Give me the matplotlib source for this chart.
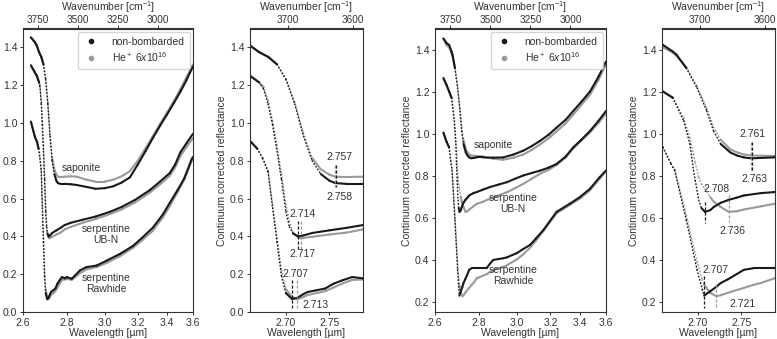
import numpy as np
import matplotlib
matplotlib.use("Agg")
import matplotlib.pyplot as plt
from matplotlib.collections import LineCollection
from matplotlib.lines import Line2D

plt.rcParams['font.family'] = ['Liberation Sans', 'DejaVu Sans']
plt.rcParams['mathtext.fontset'] = 'custom'
plt.rcParams['mathtext.rm'] = 'Liberation Sans'
plt.rcParams['mathtext.it'] = 'Liberation Sans:italic'
plt.rcParams['font.size'] = 7.5
plt.rcParams['axes.edgecolor'] = '#333333'
plt.rcParams['xtick.color'] = '#333333'
plt.rcParams['ytick.color'] = '#333333'
plt.rcParams['text.color'] = '#333333'
plt.rcParams['axes.labelcolor'] = '#333333'

# ---- left pair of panels (first sample set) ----
wl_sap_a = [2.634, 2.65, 2.66, 2.67, 2.68, 2.69, 2.70, 2.71, 2.72, 2.73, 2.74, 2.75, 2.757, 2.77, 2.79,
            2.82, 2.85, 2.90, 2.95, 3.00, 3.05, 3.10, 3.15, 3.20, 3.25, 3.30, 3.35, 3.40, 3.45, 3.50, 3.55, 3.60]
sap_a_nb = [1.452, 1.43, 1.41, 1.375, 1.35, 1.31, 1.23, 1.10, 0.93, 0.80, 0.73, 0.695, 0.682, 0.678, 0.678,
            0.676, 0.672, 0.662, 0.652, 0.655, 0.665, 0.685, 0.712, 0.78, 0.85, 0.92, 0.985, 1.045, 1.105, 1.165, 1.23, 1.30]
sap_a_he = [1.455, 1.43, 1.41, 1.375, 1.35, 1.31, 1.235, 1.11, 0.945, 0.815, 0.755, 0.727, 0.716, 0.714, 0.716,
            0.718, 0.716, 0.70, 0.69, 0.69, 0.70, 0.718, 0.745, 0.80, 0.865, 0.93, 0.995, 1.055, 1.115, 1.18, 1.245, 1.31]

wl_ubn_a = [2.634, 2.65, 2.66, 2.67, 2.675, 2.68, 2.685, 2.69, 2.695, 2.70, 2.704, 2.708, 2.714, 2.717, 2.72, 2.73,
            2.75, 2.77, 2.79, 2.82, 2.88, 2.95, 3.03, 3.10, 3.18, 3.28, 3.35, 3.42, 3.46, 3.50, 3.55, 3.60]
ubn_a_nb = [1.305, 1.27, 1.25, 1.215, 1.18, 1.10, 0.99, 0.85, 0.70, 0.53, 0.45, 0.415, 0.40, 0.402, 0.405, 0.418,
            0.432, 0.445, 0.46, 0.472, 0.488, 0.505, 0.53, 0.556, 0.592, 0.645, 0.69, 0.735, 0.78, 0.845, 0.895, 0.943]
ubn_a_he = [1.305, 1.27, 1.25, 1.215, 1.19, 1.12, 1.01, 0.88, 0.73, 0.57, 0.48, 0.42, 0.395, 0.39, 0.392, 0.398,
            0.41, 0.42, 0.437, 0.45, 0.472, 0.492, 0.518, 0.543, 0.578, 0.632, 0.675, 0.72, 0.765, 0.825, 0.875, 0.92]

wl_raw_a = [2.634, 2.652, 2.661, 2.668, 2.674, 2.68, 2.685, 2.69, 2.695, 2.70, 2.707, 2.713, 2.72, 2.725, 2.735,
            2.745, 2.755, 2.765, 2.777, 2.79, 2.80, 2.825, 2.867, 2.90, 2.956, 3.012, 3.089, 3.17, 3.23, 3.30,
            3.37, 3.42, 3.48, 3.53, 3.59, 3.60]
raw_a_nb = [1.007, 0.925, 0.90, 0.864, 0.812, 0.742, 0.55, 0.37, 0.19, 0.10, 0.068, 0.075, 0.095, 0.106, 0.115,
            0.124, 0.15, 0.167, 0.185, 0.178, 0.185, 0.176, 0.22, 0.237, 0.246, 0.272, 0.307, 0.35, 0.394, 0.446,
            0.516, 0.577, 0.647, 0.707, 0.81, 0.82]
raw_a_he = [1.007, 0.925, 0.90, 0.864, 0.815, 0.75, 0.57, 0.39, 0.22, 0.12, 0.08, 0.068, 0.08, 0.09, 0.10,
            0.11, 0.13, 0.15, 0.17, 0.172, 0.175, 0.17, 0.205, 0.225, 0.238, 0.26, 0.295, 0.34, 0.38, 0.43,
            0.50, 0.56, 0.635, 0.70, 0.80, 0.81]

# ---- right pair of panels (second sample set) ----
wl_sap_b = [2.636, 2.65, 2.661, 2.672, 2.676, 2.687, 2.699, 2.71, 2.718, 2.726, 2.737, 2.745, 2.753, 2.761, 2.763,
            2.775, 2.789, 2.82, 2.87, 2.924, 2.98, 3.035, 3.085, 3.135, 3.19, 3.24, 3.30, 3.353, 3.41, 3.475, 3.54, 3.60]
sap_b_nb = [1.453, 1.43, 1.422, 1.39, 1.375, 1.311, 1.217, 1.107, 1.01, 0.95, 0.91, 0.895, 0.886, 0.882, 0.882,
            0.884, 0.886, 0.886, 0.885, 0.886, 0.90, 0.918, 0.94, 0.965, 0.995, 1.028, 1.065, 1.107, 1.15, 1.20, 1.27, 1.343]
sap_b_he = [1.45, 1.42, 1.41, 1.385, 1.37, 1.315, 1.225, 1.12, 1.03, 0.97, 0.925, 0.91, 0.90, 0.896, 0.895,
            0.894, 0.893, 0.89, 0.88, 0.875, 0.885, 0.90, 0.922, 0.948, 0.978, 1.01, 1.048, 1.09, 1.135, 1.185, 1.255, 1.33]

wl_ubn_b = [2.636, 2.65, 2.661, 2.672, 2.684, 2.691, 2.695, 2.697, 2.701, 2.704, 2.708, 2.714, 2.718, 2.726, 2.734,
            2.736, 2.745, 2.753, 2.773, 2.789, 2.82, 2.855, 2.90, 2.943, 2.99, 3.035, 3.085, 3.135, 3.19, 3.24,
            3.30, 3.353, 3.41, 3.475, 3.54, 3.60]
ubn_b_nb = [1.264, 1.23, 1.20, 1.17, 1.06, 0.95, 0.824, 0.776, 0.682, 0.645, 0.627, 0.635, 0.65, 0.67, 0.682,
            0.685, 0.695, 0.705, 0.716, 0.721, 0.733, 0.745, 0.757, 0.768, 0.785, 0.80, 0.812, 0.823, 0.838, 0.855,
            0.89, 0.934, 0.97, 1.012, 1.06, 1.107]
ubn_b_he = [1.264, 1.23, 1.20, 1.17, 1.075, 0.98, 0.90, 0.86, 0.79, 0.76, 0.735, 0.697, 0.675, 0.65, 0.63,
            0.627, 0.63, 0.638, 0.653, 0.665, 0.675, 0.69, 0.705, 0.72, 0.74, 0.76, 0.785, 0.808, 0.828, 0.85,
            0.885, 0.928, 0.965, 1.005, 1.05, 1.095]

wl_raw_b = [2.636, 2.65, 2.661, 2.67, 2.674, 2.687, 2.699, 2.705, 2.707, 2.714, 2.721, 2.726, 2.734, 2.737, 2.753,
            2.765, 2.773, 2.789, 2.80, 2.838, 2.855, 2.872, 2.924, 2.943, 2.998, 3.035, 3.074, 3.11, 3.155, 3.24,
            3.33, 3.40, 3.475, 3.55, 3.60]
raw_b_nb = [1.004, 0.96, 0.934, 0.855, 0.824, 0.587, 0.351, 0.257, 0.228, 0.249, 0.27, 0.288, 0.305, 0.312, 0.351,
            0.359, 0.359, 0.359, 0.359, 0.359, 0.38, 0.398, 0.406, 0.41, 0.43, 0.45, 0.469, 0.50, 0.54, 0.627,
            0.666, 0.697, 0.737, 0.792, 0.824]
raw_b_he = [1.004, 0.96, 0.934, 0.855, 0.83, 0.61, 0.39, 0.304, 0.28, 0.241, 0.225, 0.23, 0.241, 0.245, 0.265,
            0.28, 0.288, 0.31, 0.315, 0.33, 0.34, 0.35, 0.365, 0.372, 0.40, 0.425, 0.455, 0.49, 0.535, 0.62,
            0.66, 0.69, 0.73, 0.785, 0.82]

# band-centre labels and which series they belong to
bands_a = [2.757, 2.758, 2.714, 2.717, 2.707, 2.713]
bands_a_who = ['he', 'nb', 'nb', 'he', 'nb', 'he']
bands_b = [2.761, 2.763, 2.708, 2.736, 2.707, 2.721]
bands_b_who = ['he', 'nb', 'nb', 'he', 'nb', 'he']

NB = '#1a1a1a'
HE = '#9a9a9a'

wl_ticks_full = [2.6, 2.8, 3.0, 3.2, 3.4, 3.6]
wl_ticks_zoom = [2.70, 2.75]
wn_ticks_full = [3750, 3500, 3250, 3000]
wn_ticks_zoom = [3700, 3600]


def draw(ax, wl, refl, color):
    wl = np.asarray(wl)
    refl = np.asarray(refl)
    pts = np.column_stack([1e4 / wl, refl])
    segs = np.stack([pts[:-1], pts[1:]], axis=1)
    slope = np.abs(np.diff(refl) / np.diff(wl))
    styles = [(0, (0.4, 1.8)) if s > 6 else 'solid' for s in slope]
    widths = [1.1 if s > 6 else 1.5 for s in slope]
    lc = LineCollection(segs, colors=color, linestyles=styles, linewidths=widths,
                        capstyle='round', joinstyle='round')
    ax.add_collection(lc)


def setup(ax, wl_lim, ylim, yticks, wl_ticks, wl_fmt, wn_ticks):
    ax.set_xlim(1e4 / wl_lim[0], 1e4 / wl_lim[1])
    ax.set_ylim(*ylim)
    ax.set_yticks(yticks)
    ax.set_yticklabels([f"{v:.1f}" for v in yticks])
    ax.set_xticks([1e4 / w for w in wl_ticks])
    ax.set_xticklabels([wl_fmt.format(w) for w in wl_ticks])
    ax.set_xlabel('Wavelength [µm]', labelpad=0)
    ax.set_ylabel('Continuum corrected reflectance', labelpad=2)
    ax.tick_params(length=2.5, width=0.7, pad=1.5)
    for s in ax.spines.values():
        s.set_linewidth(0.8)
    sec = ax.secondary_xaxis('top')
    sec.set_xticks(wn_ticks)
    sec.set_xticklabels([str(v) for v in wn_ticks])
    sec.tick_params(length=2, width=0.7, pad=0.3, labelsize=7.2)
    sec.set_xlabel('Wavenumber [cm$^{-1}$]', labelpad=3)


fig = plt.figure(figsize=(7.77, 3.39), dpi=100)
bottom = 27 / 339
height = 283.5 / 339
ax1 = fig.add_axes([23 / 777, bottom, 170 / 777, height])
ax2 = fig.add_axes([250 / 777, bottom, 113 / 777, height])
ax3 = fig.add_axes([435 / 777, bottom, 171 / 777, height])
ax4 = fig.add_axes([662 / 777, bottom, 113 / 777, height])

sets = [
    (ax1, ax2, [(wl_sap_a, sap_a_nb, sap_a_he), (wl_ubn_a, ubn_a_nb, ubn_a_he), (wl_raw_a, raw_a_nb, raw_a_he)]),
    (ax3, ax4, [(wl_sap_b, sap_b_nb, sap_b_he), (wl_ubn_b, ubn_b_nb, ubn_b_he), (wl_raw_b, raw_b_nb, raw_b_he)]),
]
for axf, axz, samples in sets:
    for wl, nb, he in samples:
        for ax in (axf, axz):
            draw(ax, wl, he, HE)
            draw(ax, wl, nb, NB)

setup(ax1, (2.6, 3.6), (0.0, 1.5), np.arange(0, 1.41, 0.2), wl_ticks_full, '{:.1f}', wn_ticks_full)
setup(ax2, (2.66, 2.79), (0.0, 1.5), np.arange(0, 1.41, 0.2), wl_ticks_zoom, '{:.2f}', wn_ticks_zoom)
setup(ax3, (2.6, 3.6), (0.15, 1.5), np.arange(0.2, 1.41, 0.2), wl_ticks_full, '{:.1f}', wn_ticks_full)
setup(ax4, (2.66, 2.79), (0.15, 1.5), np.arange(0.2, 1.41, 0.2), wl_ticks_zoom, '{:.2f}', wn_ticks_zoom)

# sample names
ax1.text(0.345, 0.507, 'saponite', transform=ax1.transAxes, ha='center', va='center')
ax1.text(0.488, 0.273, 'serpentine\nUB-N', transform=ax1.transAxes, ha='center', va='center', linespacing=1.1)
ax1.text(0.488, 0.10, 'serpentine\nRawhide', transform=ax1.transAxes, ha='center', va='center', linespacing=1.1)
ax3.text(0.341, 0.59, 'saponite', transform=ax3.transAxes, ha='center', va='center')
ax3.text(0.458, 0.382, 'serpentine\nUB-N', transform=ax3.transAxes, ha='center', va='center', linespacing=1.1)
ax3.text(0.458, 0.128, 'serpentine\nRawhide', transform=ax3.transAxes, ha='center', va='center', linespacing=1.1)

# band-centre markers
text_pos_a = [(2.7617, 0.821), (2.7617, 0.607), (2.7187, 0.52), (2.7187, 0.307), (2.711, 0.202), (2.734, 0.037)]
span_a = [(0.78, 0.66), (0.78, 0.66), (0.48, 0.335), (0.48, 0.335), (0.167, 0.019), (0.167, 0.019)]
text_pos_b = [(2.7634, 0.997), (2.7653, 0.784), (2.721, 0.738), (2.740, 0.535), (2.720, 0.351), (2.7515, 0.186)]
span_b = [(0.96, 0.815), (0.96, 0.815), (0.672, 0.573), (0.705, 0.578), (0.32, 0.17), (0.285, 0.17)]
for ax, bands, who, tpos, span in [(ax2, bands_a, bands_a_who, text_pos_a, span_a),
                                   (ax4, bands_b, bands_b_who, text_pos_b, span_b)]:
    for b, w, (tx, ty), (y0, y1) in zip(bands, who, tpos, span):
        c = NB if w == 'nb' else HE
        ax.plot([1e4 / b, 1e4 / b], [y0, y1], ls=(0, (2.5, 1.5)), lw=0.9, color=c)
        ax.text(1e4 / tx, ty, f"{b:.3f}", ha='center', va='center')

handles = [Line2D([], [], ls='none', marker='o', ms=3, color=NB),
           Line2D([], [], ls='none', marker='o', ms=3, color=HE)]
labels = ['non-bombarded', 'He$^+$ 6$x$10$^{16}$']
for ax in (ax1, ax3):
    ax.legend(handles, labels, loc='upper right', fontsize=7.5, borderaxespad=0.3,
              handletextpad=1.2, handlelength=1.5, borderpad=0.5, labelspacing=0.3)

fig.savefig('out.png', dpi=100)
